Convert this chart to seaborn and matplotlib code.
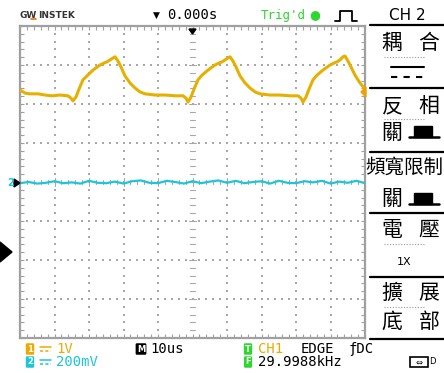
import numpy as np
import pandas as pd
import matplotlib
matplotlib.use("Agg")
import matplotlib.pyplot as plt
import seaborn as sns
from matplotlib.lines import Line2D
from matplotlib.patches import Polygon, Rectangle

# ---------------- data (time in us, amplitude in divisions) ----------------
ch1_time_us = [-50.00, -48.55, -47.10, -44.78, -42.75, -40.72, -38.41, -36.09, -35.22, -34.64,
               -33.77, -32.90, -31.74, -30.58, -28.84, -26.81, -25.65, -24.78, -23.91, -23.04,
               -22.46, -21.59, -20.72, -19.57, -18.12, -16.67, -15.22, -13.77, -10.87, -7.97,
               -5.07, -2.75, -1.88, -1.30, -0.43, 0.43, 1.59, 2.75, 4.49, 6.52,
               7.68, 8.55, 9.42, 10.29, 10.87, 11.74, 12.61, 13.77, 15.22, 16.67,
               18.12, 19.57, 22.46, 25.36, 28.26, 30.58, 31.45, 32.03, 32.90, 33.77,
               34.93, 36.09, 37.83, 39.86, 41.01, 41.88, 42.75, 43.62, 44.20, 45.07,
               45.94, 47.10, 48.55, 50.00]
ch1_div = [2.36, 2.28, 2.26, 2.26, 2.23, 2.21, 2.23, 2.21, 2.15, 2.08,
           2.18, 2.38, 2.62, 2.72, 2.87, 3.00, 3.05, 3.08, 3.13, 3.18,
           3.21, 3.10, 2.95, 2.72, 2.54, 2.41, 2.31, 2.26, 2.23, 2.23,
           2.21, 2.21, 2.15, 2.05, 2.18, 2.38, 2.62, 2.74, 2.87, 3.00,
           3.05, 3.08, 3.13, 3.18, 3.21, 3.10, 2.95, 2.72, 2.54, 2.41,
           2.31, 2.26, 2.23, 2.23, 2.21, 2.21, 2.15, 2.05, 2.18, 2.38,
           2.62, 2.74, 2.87, 3.00, 3.05, 3.08, 3.13, 3.21, 3.23, 3.10,
           2.95, 2.74, 2.54, 2.38]

ch2_time_us = [-50.0, -47.5, -45.0, -42.5, -40.0, -37.5, -35.0, -32.5, -30.0, -27.5,
               -25.0, -22.5, -20.0, -17.5, -15.0, -12.5, -10.0, -7.5, -5.0, -2.5,
               0.0, 2.5, 5.0, 7.5, 10.0, 12.5, 15.0, 17.5, 20.0, 22.5,
               25.0, 27.5, 30.0, 32.5, 35.0, 37.5, 40.0, 42.5, 45.0, 47.5, 50.0]
ch2_div = [-0.03, 0.00, -0.04, -0.02, 0.02, -0.03, -0.01, -0.04, 0.03, -0.02,
           -0.03, 0.01, -0.04, 0.02, 0.04, -0.02, -0.03, 0.03, 0.00, -0.04,
           0.02, -0.03, 0.01, 0.04, -0.02, 0.03, -0.03, 0.00, 0.02, -0.04,
           0.03, -0.02, -0.03, 0.02, -0.01, 0.03, -0.04, 0.01, -0.02, 0.03, -0.03]

ch1 = pd.DataFrame({"t": ch1_time_us, "v": ch1_div})
ch2 = pd.DataFrame({"t": ch2_time_us, "v": ch2_div})

# ---------------- style ----------------
sns.set_theme(style="white")
plt.rcParams["font.family"] = ["DejaVu Sans"]
CJK = ["Noto Sans CJK TC", "DejaVu Sans"]
MONO = ["DejaVu Sans Mono"]

YEL = "#E6B000"
CYAN = "#1CC6D8"
GREEN = "#2FD62F"
GRID = "#A8A8A8"

W, H = 444, 373
fig = plt.figure(figsize=(W / 100, H / 100), dpi=100)
fig.patch.set_facecolor("white")

def fx(x):
    return x / W

def fy(y):
    return 1 - y / H

def T(x, y, s, **kw):
    kw.setdefault("va", "center")
    kw.setdefault("ha", "left")
    fig.text(fx(x), fy(y), s, **kw)

def L(xs, ys, **kw):
    fig.add_artist(Line2D([fx(v) for v in xs], [fy(v) for v in ys],
                          transform=fig.transFigure, **kw))

# ---------------- graticule ----------------
ax = fig.add_axes([fx(20), fy(338), 345 / W, 312 / H])
ax.set_xlim(-50, 50)
ax.set_ylim(-4, 4)
for s in ax.spines.values():
    s.set_color("#A0A0A0")
    s.set_linewidth(1.6)
ax.set_xticks(np.arange(-50, 51, 10))
ax.set_xticks(np.arange(-50, 51, 2), minor=True)
ax.set_yticks(np.arange(-4, 4.01, 1))
ax.set_yticks(np.arange(-4, 4.01, 0.2), minor=True)
ax.tick_params(which="both", direction="in", top=True, right=True, bottom=True, left=True,
               labelbottom=False, labelleft=False, length=3, width=0.8, color="#A0A0A0")

minor_x = np.arange(-50, 51, 2)
minor_y = np.arange(-4, 4.01, 0.2)
for gx in np.arange(-40, 41, 10):
    if gx == 0:
        continue
    ax.scatter(np.full(minor_y.size, gx), minor_y, s=1.3, marker="s", color=GRID, lw=0, zorder=1)
for gy in np.arange(-3, 3.01, 1):
    if gy == 0:
        continue
    ax.scatter(minor_x, np.full(minor_x.size, gy), s=1.3, marker="s", color=GRID, lw=0, zorder=1)
# centre cross dashes
for yy in minor_y:
    half = 1.0 if abs(yy - round(yy)) < 1e-6 else 0.7
    ax.plot([-half, half], [yy, yy], color=GRID, lw=0.8, zorder=1)
for xx in minor_x:
    half = 0.09 if xx % 10 == 0 else 0.06
    ax.plot([xx, xx], [-half, half], color=GRID, lw=0.8, zorder=1)

# ---------------- traces ----------------
sns.lineplot(data=ch2, x="t", y="v", ax=ax, color=CYAN, lw=1.6, sort=False,
             estimator=None, zorder=3)
sns.lineplot(data=ch1, x="t", y="v", ax=ax, color=YEL, lw=2.2, sort=False,
             estimator=None, zorder=4)
ax.set_xlabel("")
ax.set_ylabel("")

# trigger position marker (top centre) and ch1 trigger level (right edge)
fig.add_artist(Polygon([[fx(189), fy(29)], [fx(196), fy(29)], [fx(192.5), fy(34)]],
                       closed=True, transform=fig.transFigure, color="black"))
fig.add_artist(Polygon([[fx(366), fy(87)], [fx(366), fy(97)], [fx(361), fy(92)]],
                       closed=True, transform=fig.transFigure, color="#F0A000"))
# channel 2 ground marker
T(7, 183, "2", color=CYAN, fontsize=7, fontweight="bold")
fig.add_artist(Polygon([[fx(14), fy(179)], [fx(14), fy(187)], [fx(20), fy(183)]],
                       closed=True, transform=fig.transFigure, color="black"))
# big black pointer at lower left
fig.add_artist(Polygon([[fx(0), fy(242)], [fx(0), fy(262)], [fx(12), fy(252)]],
                       closed=True, transform=fig.transFigure, color="black"))

# ---------------- top bar ----------------
T(20, 15, "GW", fontsize=6.5, fontweight="bold", color="#333333")
L([31, 36], [19, 19], color="#F07000", lw=1.2)
T(38, 15, "INSTEK", fontsize=6.5, fontweight="bold", color="#333333")
T(153, 15, "▼", fontsize=6.5, color="black")
T(167, 15, "0.000s", fontsize=10, family=MONO, color="black")
T(261, 15, "Trig'd", fontsize=9, family=MONO, color=GREEN)
T(309, 15, "●", fontsize=9, color=GREEN)
L([335, 340, 340, 352, 352, 357], [21, 21, 11, 11, 21, 21], color="black", lw=1.3)
T(407, 15, "CH 2", fontsize=11, color="black", ha="center")

# ---------------- right menu ----------------
for yy in [25, 88, 152, 213, 277, 339]:
    L([370, 444], [yy, yy], color="black", lw=1.6)
for yy in [57, 119, 244, 307]:
    L([384, 425], [yy, yy], color="#999999", lw=0.8, ls=(0, (1, 1.5)))

def pair(y, a, b):
    T(392, y, a, fontsize=15, family=CJK, color="black", ha="center")
    T(429, y, b, fontsize=15, family=CJK, color="black", ha="center")

pair(43, "耦", "合")
L([391, 424], [67, 67], color="black", lw=1.5)
L([391, 424], [77, 77], color="black", lw=1.5, ls=(0, (3, 3)))
pair(106, "反", "相")
T(392, 133, "關", fontsize=15, family=CJK, color="black", ha="center")
T(404, 167, "頻寬限制", fontsize=14, family=CJK, color="black", ha="center")
T(392, 199, "關", fontsize=15, family=CJK, color="black", ha="center")
for yb in [137, 204]:
    fig.add_artist(Rectangle((fx(414), fy(yb)), 18 / W, 11 / H, transform=fig.transFigure,
                             color="black"))
    L([409, 439], [yb, yb], color="black", lw=1.8)
pair(230, "電", "壓")
T(404, 262, "1X", fontsize=8, color="black", ha="center")
pair(293, "擴", "展")
pair(322, "底", "部")

# ---------------- bottom bar ----------------
def icon(x, y, s, fc):
    T(x, y, s, fontsize=6, fontweight="bold", color="white", ha="center",
      bbox=dict(boxstyle="round,pad=0.15", fc=fc, ec="none"))

def dc(x, y, c):
    L([x, x + 11], [y - 2, y - 2], color=c, lw=1.1)
    L([x, x + 11], [y + 2, y + 2], color=c, lw=1.1, ls=(0, (2, 1.5)))

icon(30, 349, "1", "#F0A800")
dc(40, 349, "#F0A800")
T(56, 349, "1V", fontsize=10, family=MONO, color="#F0A800")
icon(30, 362, "2", CYAN)
dc(40, 362, CYAN)
T(56, 362, "200mV", fontsize=10, family=MONO, color=CYAN)

icon(141, 349, "M", "black")
T(150, 349, "10us", fontsize=10, family=MONO, color="black")

icon(248, 349, "T", GREEN)
T(258, 349, "CH1", fontsize=10, family=MONO, color="#F0A800")
T(301, 349, "EDGE", fontsize=10, family=MONO, color="black")
T(349, 349, "ƒDC", fontsize=10, family=MONO, color="black")
icon(248, 362, "F", GREEN)
T(258, 362, "29.9988kHz", fontsize=10, family=MONO, color="black")

fig.add_artist(Rectangle((fx(410), fy(367)), 18 / W, 10 / H, transform=fig.transFigure,
                         fill=False, ec="black", lw=1.2))
T(419, 362, "⇔", fontsize=6, color="black", ha="center")
T(429, 362, "D", fontsize=6, color="black")

fig.savefig("out.png", dpi=100, facecolor="white")
